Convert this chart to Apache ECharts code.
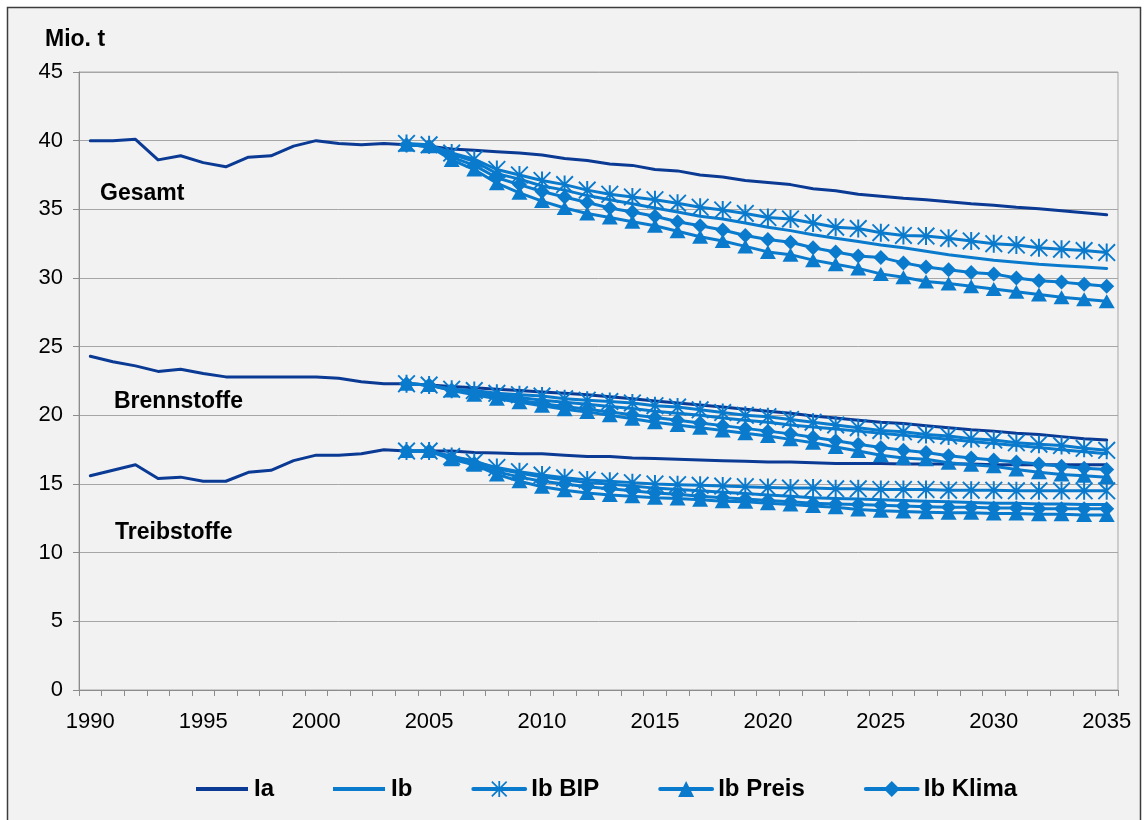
<!DOCTYPE html>
<html>
<head>
<meta charset="utf-8">
<script src="https://cdn.jsdelivr.net/npm/echarts@6/dist/echarts.min.js"></script>
<style>
  html, body { margin: 0; padding: 0; background: #ffffff; }
  #chart { width: 1147px; height: 820px; }
</style>
</head>
<body>
<div id="chart"></div>
<script>
// Years on the category axis
const years = ['1990','1991','1992','1993','1994','1995','1996','1997','1998','1999',
  '2000','2001','2002','2003','2004','2005','2006','2007','2008','2009',
  '2010','2011','2012','2013','2014','2015','2016','2017','2018','2019',
  '2020','2021','2022','2023','2024','2025','2026','2027','2028','2029',
  '2030','2031','2032','2033','2034','2035'];

// Scenario Ia, 1990-2035 (Mio. t)
const iaGesamt = [40.0, 40.0, 40.1, 38.6, 38.9, 38.4, 38.1, 38.8, 38.9, 39.6, 40.0, 39.8, 39.7, 39.8,
  39.7, 39.6, 39.4, 39.3, 39.2, 39.1, 38.95, 38.7, 38.55, 38.3, 38.2, 37.9, 37.8, 37.5, 37.35, 37.1,
  36.95, 36.8, 36.5, 36.35, 36.1, 35.95, 35.8, 35.7, 35.55, 35.4, 35.3, 35.15, 35.05, 34.9, 34.75, 34.6];
const iaBrenn = [24.3, 23.9, 23.6, 23.2, 23.35, 23.05, 22.8, 22.8, 22.8, 22.8, 22.8, 22.7, 22.45, 22.3,
  22.3, 22.2, 22.1, 22.0, 21.9, 21.8, 21.7, 21.6, 21.5, 21.35, 21.2, 21.05, 20.9, 20.75, 20.6, 20.45,
  20.3, 20.15, 19.95, 19.8, 19.65, 19.5, 19.4, 19.25, 19.1, 18.95, 18.85, 18.7, 18.6, 18.45, 18.3, 18.2];
const iaTreib = [15.6, 16.0, 16.4, 15.4, 15.5, 15.2, 15.2, 15.85, 16.0, 16.7, 17.1, 17.1, 17.2, 17.5,
  17.4, 17.4, 17.4, 17.3, 17.25, 17.2, 17.2, 17.1, 17.0, 17.0, 16.9, 16.85, 16.8, 16.75, 16.7, 16.65,
  16.6, 16.6, 16.55, 16.5, 16.5, 16.5, 16.45, 16.45, 16.45, 16.45, 16.4, 16.4, 16.4, 16.4, 16.4, 16.4];

// Ib variants, 2004-2035 (Mio. t)
const ibGesamt = [39.7, 39.6, 39.0, 38.5, 37.6, 37.2, 36.7, 36.4, 36.0, 35.7, 35.4, 35.1, 34.8, 34.5, 34.3, 34.0,
  33.7, 33.45, 33.15, 32.9, 32.65, 32.4, 32.2, 31.95, 31.7, 31.5, 31.3, 31.15, 31.0, 30.9, 30.8, 30.7];
const bipGesamt = [39.8, 39.7, 39.1, 38.65, 37.9, 37.5, 37.1, 36.8, 36.4, 36.1, 35.9, 35.7, 35.45, 35.15, 34.95, 34.7,
  34.4, 34.3, 34.0, 33.7, 33.6, 33.3, 33.1, 33.05, 32.9, 32.7, 32.5, 32.4, 32.2, 32.1, 32.0, 31.85];
const preisGesamt = [39.7, 39.6, 38.6, 37.9, 36.9, 36.2, 35.6, 35.1, 34.7, 34.4, 34.1, 33.8, 33.4, 33.0, 32.7, 32.3,
  31.9, 31.7, 31.3, 31.0, 30.7, 30.3, 30.05, 29.75, 29.6, 29.4, 29.2, 29.0, 28.8, 28.6, 28.45, 28.3];
const klimaGesamt = [39.7, 39.6, 38.8, 38.2, 37.3, 36.8, 36.3, 35.9, 35.5, 35.1, 34.8, 34.5, 34.1, 33.8, 33.5, 33.1,
  32.8, 32.6, 32.2, 31.9, 31.6, 31.5, 31.1, 30.8, 30.6, 30.4, 30.3, 30.0, 29.8, 29.7, 29.55, 29.4];

const ibBrenn = [22.3, 22.2, 21.9, 21.7, 21.5, 21.3, 21.1, 20.95, 20.8, 20.65, 20.5, 20.3, 20.15, 20.0, 19.8, 19.65,
  19.5, 19.3, 19.15, 19.0, 18.85, 18.7, 18.55, 18.4, 18.25, 18.1, 17.95, 17.8, 17.65, 17.5, 17.35, 17.2];
const bipBrenn = [22.3, 22.2, 21.9, 21.8, 21.6, 21.5, 21.4, 21.2, 21.1, 21.0, 20.9, 20.7, 20.6, 20.4, 20.2, 20.0,
  19.9, 19.7, 19.5, 19.3, 19.1, 18.9, 18.8, 18.6, 18.5, 18.3, 18.2, 18.0, 17.9, 17.8, 17.6, 17.45];
const preisBrenn = [22.3, 22.2, 21.8, 21.5, 21.2, 20.95, 20.7, 20.45, 20.25, 20.0, 19.75, 19.5, 19.3, 19.1, 18.9, 18.7,
  18.5, 18.25, 18.0, 17.7, 17.4, 17.1, 16.9, 16.8, 16.55, 16.4, 16.3, 16.05, 15.85, 15.7, 15.6, 15.5];
const klimaBrenn = [22.3, 22.2, 21.85, 21.6, 21.35, 21.1, 20.85, 20.65, 20.45, 20.25, 20.05, 19.85, 19.65, 19.45, 19.25, 19.05,
  18.85, 18.65, 18.4, 18.15, 17.9, 17.65, 17.45, 17.3, 17.05, 16.9, 16.75, 16.6, 16.45, 16.3, 16.15, 16.05];

const ibTreib = [17.4, 17.4, 17.0, 16.7, 16.1, 15.8, 15.5, 15.3, 15.1, 15.0, 14.85, 14.7, 14.6, 14.5, 14.4, 14.3,
  14.2, 14.1, 14.0, 13.95, 13.9, 13.85, 13.8, 13.75, 13.7, 13.65, 13.6, 13.6, 13.55, 13.55, 13.5, 13.5];
const bipTreib = [17.4, 17.4, 17.0, 16.6, 16.2, 15.9, 15.65, 15.45, 15.3, 15.2, 15.1, 15.0, 14.95, 14.9, 14.85, 14.8,
  14.75, 14.7, 14.7, 14.65, 14.65, 14.6, 14.6, 14.6, 14.55, 14.55, 14.55, 14.5, 14.5, 14.5, 14.5, 14.5];
const preisTreib = [17.4, 17.4, 16.8, 16.4, 15.7, 15.2, 14.8, 14.55, 14.35, 14.2, 14.1, 14.0, 13.95, 13.85, 13.75, 13.7,
  13.6, 13.5, 13.4, 13.3, 13.15, 13.05, 13.0, 12.95, 12.9, 12.9, 12.85, 12.85, 12.8, 12.8, 12.75, 12.75];
const klimaTreib = [17.4, 17.4, 16.9, 16.5, 15.9, 15.5, 15.2, 15.0, 14.8, 14.65, 14.5, 14.35, 14.25, 14.1, 14.0, 13.9,
  13.8, 13.7, 13.6, 13.55, 13.5, 13.45, 13.4, 13.35, 13.3, 13.3, 13.25, 13.25, 13.2, 13.2, 13.2, 13.2];

const yTicks = ['0','5','10','15','20','25','30','35','40','45'];
const legendNames = ['Ia', 'Ib', 'Ib BIP', 'Ib Preis', 'Ib Klima'];
const groupLabels = ['Gesamt', 'Brennstoffe', 'Treibstoffe'];

const DARK = '#0a3a94';
const LIGHT = '#0a7acd';
const FONT = '"Liberation Sans", Arial, Helvetica, sans-serif';

// Ib scenarios start in 2004; years before that stay empty
const lead = new Array(years.indexOf('2004')).fill(null);

// Asterisk marker: vertical bar plus two diagonals
const ASTERISK = 'path://M8.9 0h2.2v20h-2.2z M0 1.5L1.5 0L20 18.5L18.5 20z M18.5 0L20 1.5L1.5 20L0 18.5z';
// Plain legend line: a horizontal bar, with tiny corner dots fixing the 52x20 icon box
const LEGEND_LINE = 'path://M0 0h0.01v0.01h-0.01z M0 8.1h52v3.8h-52z M51.99 19.99h0.01v0.01h-0.01z';

const groups = [
  { ia: iaGesamt, ib: ibGesamt, bip: bipGesamt, preis: preisGesamt, klima: klimaGesamt },
  { ia: iaBrenn, ib: ibBrenn, bip: bipBrenn, preis: preisBrenn, klima: klimaBrenn },
  { ia: iaTreib, ib: ibTreib, bip: bipTreib, preis: preisTreib, klima: klimaTreib }
];

function lineSeries(name, data, color, symbol, size) {
  return {
    name: name,
    type: 'line',
    data: data,
    symbol: symbol,
    symbolSize: size,
    showSymbol: symbol !== 'none',
    showAllSymbol: true,
    connectNulls: false,
    lineStyle: { color: color, width: 3, join: 'round', cap: 'round' },
    itemStyle: { color: color, borderWidth: 0 },
    emphasis: { disabled: true },
    animation: false
  };
}

const series = [];
// Draw order: all Ia lines first, then each Ib variant
groups.forEach(g => series.push(lineSeries('Ia', g.ia, DARK, 'none', 0)));
groups.forEach(g => series.push(lineSeries('Ib', lead.concat(g.ib), LIGHT, 'none', 0)));
groups.forEach(g => series.push(lineSeries('Ib BIP', lead.concat(g.bip), LIGHT, ASTERISK, 18)));
groups.forEach(g => series.push(lineSeries('Ib Preis', lead.concat(g.preis), LIGHT, 'triangle', [16, 14])));
groups.forEach(g => series.push(lineSeries('Ib Klima', lead.concat(g.klima), LIGHT, 'diamond', [15, 15])));

const chart = echarts.init(document.getElementById('chart'), null, { renderer: 'canvas' });

chart.setOption({
  backgroundColor: '#ffffff',
  animation: false,
  textStyle: { fontFamily: FONT },
  grid: {
    left: 79, right: 29, top: 72, bottom: 130,
    show: true, borderColor: '#a6a6a6', borderWidth: 1, backgroundColor: 'transparent'
  },
  xAxis: {
    type: 'category',
    data: years,
    boundaryGap: true,
    axisLine: { lineStyle: { color: '#8c8c8c', width: 1 } },
    axisTick: { show: true, interval: 0, length: 6, lineStyle: { color: '#8c8c8c' } },
    axisLabel: { interval: 4, fontSize: 22, color: '#000', margin: 21, fontFamily: FONT },
    splitLine: { show: false }
  },
  yAxis: {
    type: 'value',
    min: 0, max: 45, interval: 5,
    axisLine: { show: true, lineStyle: { color: '#8c8c8c', width: 1 } },
    axisTick: { show: true, length: 6, lineStyle: { color: '#8c8c8c' } },
    axisLabel: {
      fontSize: 22, color: '#000', margin: 16, fontFamily: FONT,
      formatter: v => yTicks[Math.round(v / 5)]
    },
    splitLine: { show: true, lineStyle: { color: '#a6a6a6', width: 1 } }
  },
  legend: {
    data: [
      { name: legendNames[0], icon: LEGEND_LINE, itemStyle: { color: DARK } },
      { name: legendNames[1], icon: LEGEND_LINE, itemStyle: { color: LIGHT } },
      { name: legendNames[2] },
      { name: legendNames[3] },
      { name: legendNames[4] }
    ],
    left: 196,
    top: 777,
    padding: 0,
    itemWidth: 52,
    itemHeight: 20,
    itemGap: 59,
    lineStyle: { width: 3.8 },
    textStyle: { fontSize: 24, fontWeight: 'bold', color: '#000', fontFamily: FONT, padding: [0, 0, 0, 1] },
    selectedMode: false
  },
  graphic: [
    {
      type: 'rect', z: -100, silent: true,
      shape: { x: 7.5, y: 7.5, width: 1133, height: 840 },
      style: { fill: '#f2f2f2', stroke: '#3c3c3c', lineWidth: 1.5 }
    },
    {
      type: 'text', left: 45, top: 28, silent: true,
      style: { text: 'Mio. t', fontSize: 23, fontWeight: 'bold', fill: '#000', fontFamily: FONT }
    },
    {
      type: 'text', left: 100, top: 182, silent: true,
      style: { text: groupLabels[0], fontSize: 23, fontWeight: 'bold', fill: '#000', fontFamily: FONT }
    },
    {
      type: 'text', left: 114, top: 390, silent: true,
      style: { text: groupLabels[1], fontSize: 23, fontWeight: 'bold', fill: '#000', fontFamily: FONT }
    },
    {
      type: 'text', left: 115, top: 521, silent: true,
      style: { text: groupLabels[2], fontSize: 23, fontWeight: 'bold', fill: '#000', fontFamily: FONT }
    }
  ],
  series: series
});
</script>
</body>
</html>
